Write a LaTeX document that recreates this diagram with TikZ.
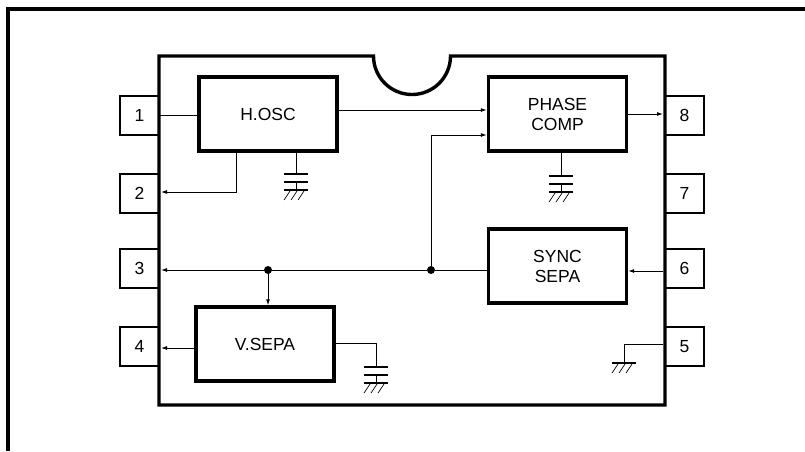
\documentclass[tikz,border=0pt]{standalone}
\usepackage{fontspec}
\setmainfont{Liberation Sans}
\usetikzlibrary{arrows.meta}
\tikzset{
    frameline/.style = {line width=3.6pt,draw=black},
    package/.style = {line width=3.4pt,draw=black,fill=white,line join=miter},
    pin/.style = {rectangle, line width=1.9pt, draw=black, minimum width = 39pt, minimum height = 39pt, inner sep=0pt, font=\fontsize{17.5}{20}\selectfont},
    block/.style = {rectangle, line width=3.4pt, draw=black, fill=white, minimum width = 138pt, minimum height = 74pt, inner sep=0pt, align=center, font=\fontsize{17.5}{20}\selectfont},
    wire/.style = {line width=0.9pt},
    edgen/.style = {-{Latex[length=6pt,width=4pt]},line width=0.9pt},
    junction/.style = {circle, fill=black, minimum size=8pt, inner sep=0pt},
    plate/.style = {line width=2.4pt},
    hatch/.style = {line width=0.7pt},
    gnd/.pic = {
        \draw[plate] (-12,0) -- (12,0);
        \foreach \i in {-6,1,8} {
            \draw[hatch] (\i,1) -- (\i-6,10);
        }
    },
    capgnd/.pic = {
        \draw[plate] (-12,0) -- (12,0);
        \draw[plate] (-12,8) -- (12,8);
        \draw[wire] (0,8) -- (0,16);
        \pic at (0,16) {gnd};
    }
}

\begin{document}
\begin{tikzpicture}[x=1pt,y=-1pt]
\useasboundingbox (0,0) rectangle (805,451);
%
\draw[frameline] (8,451) -- (8,9) -- (805,9);
%
\node[pin] at (139.5,115.5) (pina) {1};
\node[pin] at (139.5,193.5) (pinb) {2};
\node[pin] at (139.5,268.5) (pinc) {3};
\node[pin] at (139.5,346.5) (pind) {4};
\node[pin] at (684.5,346.5) (pine) {5};
\node[pin] at (684.5,268.5) (pinf) {6};
\node[pin] at (684.5,193.5) (ping) {7};
\node[pin] at (684.5,115.5) (pinh) {8};
%
\draw[package] (159,56) -- (373.5,56) arc[start angle=180,end angle=0,radius=38.5] -- (665,56) -- (665,405) -- (159,405) -- cycle;
%
\node[block] at (268,114) (hosc) {H.OSC};
\node[block] at (557.5,114) (phase) {PHASE\\COMP};
\node[block] at (557.5,266) (sync) {SYNC\\SEPA};
\node[block] at (265,344) (vsepa) {V.SEPA};
%
\node[junction] at (431,270) (ja) {};
\node[junction] at (268,270) (jb) {};
%
\coordinate (capa) at (296,174);
\coordinate (capb) at (561,176);
\coordinate (capc) at (376,367);
\coordinate (gnda) at (624,363);
\coordinate (bend) at (236,192);
%
\draw[wire] (pina.east) -- (hosc.west |- pina);
\draw[edgen] (hosc.east |- 0,110) -- (phase.west |- 0,110);
\draw[edgen] (phase.east |- 0,114) -- (663,114);
\draw[edgen] (hosc.south -| bend) -- (bend) -- (161,192);
\draw[edgen] (ja) |- (phase.west |- 0,135);
\draw[wire] (sync.west |- ja) -- (ja);
\draw[wire] (ja) -- (jb);
\draw[edgen] (jb) -- (161,270);
\draw[edgen] (jb) -- (vsepa.north -| jb);
\draw[edgen] (vsepa.west |- 0,348) -- (161,348);
\draw[edgen] (663,271) -- (sync.east |- 0,271);
%
\draw[wire] (hosc.south -| capa) -- (capa);
\draw[wire] (phase.south -| capb) -- (capb);
\draw[wire] (vsepa.east |- 0,343) -| (capc);
\draw[wire] (663,344) -| (gnda);
%
\pic at (capa) {capgnd};
\pic at (capb) {capgnd};
\pic at (capc) {capgnd};
\pic at (gnda) {gnd};
%
\end{tikzpicture}
\end{document}
